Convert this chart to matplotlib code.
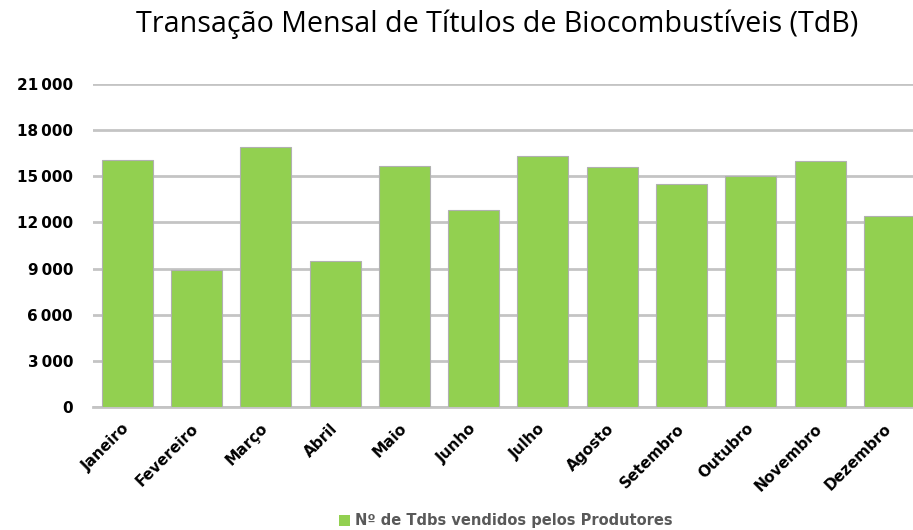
import matplotlib.pyplot as plt
from matplotlib.ticker import FuncFormatter
from matplotlib.patches import Patch

# Monthly data
meses = ['Janeiro', 'Fevereiro', 'Março', 'Abril', 'Maio', 'Junho',
         'Julho', 'Agosto', 'Setembro', 'Outubro', 'Novembro', 'Dezembro']
tdbs = [16100, 8900, 16900, 9500, 15700, 12800,
        16300, 15600, 14500, 15000, 16000, 12400]
yticks = [0, 3000, 6000, 9000, 12000, 15000, 18000, 21000]
serie = 'Nº de Tdbs vendidos pelos Produtores'

verde = '#92D050'

fig = plt.figure(figsize=(9.13, 5.30), dpi=100)
ax = fig.add_axes([92.5/913, 1 - 406.7/530, (924 - 92.5)/913, (406.7 - 84.3)/530])

x = range(len(meses))
ax.bar(x, tdbs, width=0.736, color=verde, edgecolor='#b0b0b0', linewidth=0.8, zorder=3)

ax.set_xlim(-0.5, len(meses) - 0.5)
ax.set_ylim(0, 21000)
ax.set_yticks(yticks)
ax.yaxis.set_major_formatter(FuncFormatter(lambda v, p: f'{int(v):,}'.replace(',', '\u2009')))
ax.grid(axis='y', color='#c4c4c4', linewidth=2, zorder=0)
ax.set_axisbelow(True)

for s in ['top', 'right', 'left']:
    ax.spines[s].set_visible(False)
ax.spines['bottom'].set_color('#c4c4c4')
ax.spines['bottom'].set_linewidth(2)

ax.tick_params(axis='both', length=0)
ax.tick_params(axis='y', pad=14)
ax.tick_params(axis='x', pad=14)
ax.set_xticks(list(x))
ax.set_xticklabels(meses, rotation=45, ha='right', va='center', rotation_mode='anchor',
                   fontweight='bold', fontsize=11)
for lbl in ax.get_yticklabels():
    lbl.set_fontweight('bold')
    lbl.set_fontsize(11)

fig.text(0.544, 0.954, 'Transação Mensal de Títulos de Biocombustíveis (TdB)',
         ha='center', va='center', fontsize=20.6, family='Open Sans')

fig.legend(handles=[Patch(facecolor=verde, label=serie)], loc='center',
           bbox_to_anchor=(0.554, 0.017), frameon=False, handlelength=0.75,
           handleheight=0.75, handletextpad=0.3,
           prop={'weight': 'bold', 'size': 10.5})
for t in fig.legends[0].get_texts():
    t.set_color('#595959')

fig.savefig('out.png', dpi=100)
